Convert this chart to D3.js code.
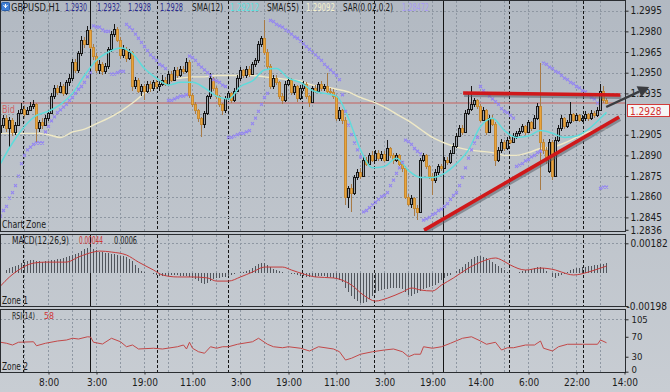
<!DOCTYPE html>
<html><head><meta charset="utf-8">
<script src="https://cdn.jsdelivr.net/npm/d3@7"></script>
<style>
html,body{margin:0;padding:0;background:#bcc2ca;}
svg{display:block;}
text{font-family:'Liberation Sans Narrow','Arial Narrow','DejaVu Sans Condensed','Liberation Sans',sans-serif;}
</style></head><body>
<svg id="c" width="670" height="392"></svg>
<script>
// ---------------- DATA ----------------
const open = [
1.2907,1.2912,1.2917,1.2910,1.2916,1.2907,1.2912,1.2921,1.2924,1.2920,
1.2923,1.2926,1.2927,1.2910,1.2914,1.2912,1.2917,1.2921,1.2933,1.2939,
1.2936,1.2940,1.2935,1.2943,1.2946,1.2958,1.2952,1.2964,1.2974,1.2971,
1.2981,1.2969,1.2962,1.2952,1.2956,1.2951,1.2955,1.2967,1.2978,1.2982,
1.2974,1.2963,1.2967,1.2961,1.2965,1.2940,1.2945,1.2937,1.2940,1.2937,
1.2942,1.2939,1.2943,1.2940,1.2942,1.2945,1.2942,1.2949,1.2945,1.2952,
1.2948,1.2953,1.2951,1.2958,1.2934,1.2927,1.2923,1.2917,1.2913,1.2921,
1.2933,1.2946,1.2939,1.2933,1.2927,1.2923,1.2932,1.2935,1.2930,1.2937,
1.2946,1.2952,1.2948,1.2953,1.2949,1.2956,1.2959,1.2971,1.2975,1.2965,
1.2955,1.2940,1.2946,1.2943,1.2933,1.2930,1.2942,1.2945,1.2936,1.2940,
1.2932,1.2939,1.2942,1.2933,1.2929,1.2939,1.2937,1.2942,1.2939,1.2940,
1.2937,1.2936,1.2933,1.2917,1.2923,1.2916,1.2860,1.2866,1.2863,1.2874,
1.2878,1.2875,1.2887,1.2884,1.2890,1.2887,1.2892,1.2888,1.2891,1.2887,
1.2895,1.2890,1.2887,1.2890,1.2884,1.2881,1.2860,1.2855,1.2859,1.2852,
1.2849,1.2887,1.2890,1.2882,1.2875,1.2872,1.2878,1.2882,1.2881,1.2887,
1.2885,1.2892,1.2897,1.2904,1.2910,1.2907,1.2921,1.2924,1.2927,1.2930,
1.2926,1.2916,1.2923,1.2907,1.2917,1.2913,1.2887,1.2894,1.2900,1.2895,
1.2901,1.2900,1.2904,1.2906,1.2908,1.2911,1.2907,1.2914,1.2910,1.2917,
1.2926,1.2900,1.2894,1.2879,1.2900,1.2875,1.2901,1.2910,1.2917,1.2911,
1.2914,1.2920,1.2916,1.2919,1.2916,1.2917,1.2920,1.2917,1.2921,1.2919,
1.2923,1.2937,1.2930];
const high = [
1.2915,1.2919,1.2919,1.2918,1.2917,1.2914,1.2923,1.2928,1.2926,1.2925,
1.2929,1.2930,1.2928,1.2916,1.2917,1.2919,1.2923,1.2935,1.2941,1.2941,
1.2943,1.2942,1.2945,1.2949,1.2960,1.2960,1.2966,1.2977,1.2976,1.2984,
1.2982,1.2971,1.2964,1.2959,1.2958,1.2957,1.2969,1.2980,1.2985,1.2983,
1.2976,1.2970,1.2969,1.2967,1.2966,1.2947,1.2946,1.2942,1.2942,1.2944,
1.2944,1.2945,1.2945,1.2944,1.2948,1.2947,1.2951,1.2951,1.2954,1.2954,
1.2955,1.2955,1.2961,1.2959,1.2935,1.2929,1.2924,1.2918,1.2922,1.2934,
1.2950,1.2947,1.2940,1.2934,1.2928,1.2933,1.2937,1.2936,1.2939,1.2948,
1.2954,1.2953,1.2955,1.2955,1.2958,1.2961,1.2973,1.2977,1.2988,1.2967,
1.2956,1.2948,1.2948,1.2944,1.2935,1.2944,1.2947,1.2946,1.2942,1.2941,
1.2941,1.2944,1.2943,1.2934,1.2940,1.2941,1.2943,1.2944,1.2942,1.2950,
1.2939,1.2938,1.2934,1.2925,1.2924,1.2918,1.2868,1.2869,1.2876,1.2880,
1.2881,1.2889,1.2889,1.2892,1.2893,1.2894,1.2894,1.2893,1.2893,1.2901,
1.2896,1.2892,1.2892,1.2891,1.2886,1.2882,1.2862,1.2861,1.2860,1.2854,
1.2888,1.2892,1.2891,1.2883,1.2877,1.2880,1.2884,1.2884,1.2889,1.2889,
1.2894,1.2899,1.2906,1.2912,1.2912,1.2923,1.2935,1.2940,1.2932,1.2931,
1.2927,1.2925,1.2924,1.2919,1.2919,1.2914,1.2896,1.2902,1.2901,1.2903,
1.2903,1.2906,1.2908,1.2910,1.2913,1.2912,1.2916,1.2915,1.2919,1.2928,
1.2957,1.2902,1.2896,1.2902,1.2901,1.2903,1.2912,1.2919,1.2918,1.2916,
1.2929,1.2921,1.2921,1.2920,1.2919,1.2922,1.2921,1.2923,1.2922,1.2925,
1.2942,1.2940,1.2932];
const low = [
1.2900,1.2910,1.2907,1.2896,1.2904,1.2905,1.2911,1.2920,1.2918,1.2919,
1.2922,1.2924,1.2900,1.2907,1.2909,1.2911,1.2915,1.2920,1.2931,1.2934,
1.2935,1.2933,1.2934,1.2940,1.2944,1.2950,1.2950,1.2962,1.2968,1.2970,
1.2967,1.2959,1.2950,1.2949,1.2948,1.2949,1.2953,1.2965,1.2976,1.2972,
1.2960,1.2961,1.2958,1.2959,1.2937,1.2938,1.2935,1.2933,1.2930,1.2935,
1.2936,1.2937,1.2938,1.2937,1.2940,1.2940,1.2941,1.2943,1.2944,1.2946,
1.2947,1.2949,1.2950,1.2932,1.2925,1.2920,1.2914,1.2903,1.2910,1.2919,
1.2931,1.2937,1.2931,1.2925,1.2919,1.2921,1.2930,1.2928,1.2929,1.2936,
1.2944,1.2946,1.2946,1.2947,1.2948,1.2954,1.2957,1.2969,1.2963,1.2953,
1.2938,1.2938,1.2941,1.2931,1.2927,1.2929,1.2940,1.2934,1.2934,1.2929,
1.2930,1.2937,1.2931,1.2925,1.2928,1.2935,1.2935,1.2937,1.2937,1.2935,
1.2934,1.2931,1.2915,1.2915,1.2913,1.2854,1.2852,1.2849,1.2861,1.2872,
1.2873,1.2874,1.2882,1.2883,1.2885,1.2886,1.2886,1.2886,1.2885,1.2886,
1.2888,1.2884,1.2885,1.2882,1.2878,1.2858,1.2853,1.2852,1.2846,1.2843,
1.2848,1.2885,1.2880,1.2873,1.2861,1.2870,1.2876,1.2879,1.2880,1.2883,
1.2884,1.2891,1.2895,1.2903,1.2905,1.2906,1.2919,1.2922,1.2925,1.2924,
1.2914,1.2915,1.2905,1.2906,1.2911,1.2882,1.2885,1.2892,1.2893,1.2894,
1.2898,1.2899,1.2902,1.2904,1.2906,1.2905,1.2906,1.2908,1.2909,1.2916,
1.2865,1.2891,1.2884,1.2877,1.2872,1.2874,1.2900,1.2908,1.2909,1.2910,
1.2913,1.2914,1.2915,1.2914,1.2914,1.2915,1.2915,1.2916,1.2917,1.2918,
1.2922,1.2928,1.2928];
const close = [
1.2912,1.2917,1.2910,1.2916,1.2907,1.2912,1.2921,1.2924,1.2920,1.2923,
1.2926,1.2927,1.2910,1.2914,1.2912,1.2917,1.2921,1.2933,1.2939,1.2936,
1.2940,1.2935,1.2943,1.2946,1.2958,1.2952,1.2964,1.2974,1.2971,1.2981,
1.2969,1.2962,1.2952,1.2956,1.2951,1.2955,1.2967,1.2978,1.2982,1.2974,
1.2963,1.2967,1.2961,1.2965,1.2940,1.2945,1.2937,1.2940,1.2937,1.2942,
1.2939,1.2943,1.2940,1.2942,1.2945,1.2942,1.2949,1.2945,1.2952,1.2948,
1.2953,1.2951,1.2958,1.2934,1.2927,1.2923,1.2917,1.2913,1.2921,1.2933,
1.2946,1.2939,1.2933,1.2927,1.2923,1.2932,1.2935,1.2930,1.2937,1.2946,
1.2952,1.2948,1.2953,1.2949,1.2956,1.2959,1.2971,1.2975,1.2965,1.2955,
1.2940,1.2946,1.2943,1.2933,1.2930,1.2942,1.2945,1.2936,1.2940,1.2932,
1.2939,1.2942,1.2933,1.2929,1.2939,1.2937,1.2942,1.2939,1.2940,1.2937,
1.2936,1.2933,1.2917,1.2923,1.2916,1.2860,1.2866,1.2863,1.2874,1.2878,
1.2875,1.2887,1.2884,1.2890,1.2887,1.2892,1.2888,1.2891,1.2887,1.2895,
1.2890,1.2887,1.2890,1.2884,1.2881,1.2860,1.2855,1.2859,1.2852,1.2849,
1.2887,1.2890,1.2882,1.2875,1.2872,1.2878,1.2882,1.2881,1.2887,1.2885,
1.2892,1.2897,1.2904,1.2910,1.2907,1.2921,1.2924,1.2927,1.2930,1.2926,
1.2916,1.2923,1.2907,1.2917,1.2913,1.2887,1.2894,1.2900,1.2895,1.2901,
1.2900,1.2904,1.2906,1.2908,1.2911,1.2907,1.2914,1.2910,1.2917,1.2926,
1.2900,1.2894,1.2887,1.2900,1.2875,1.2901,1.2910,1.2917,1.2911,1.2914,
1.2920,1.2916,1.2919,1.2916,1.2917,1.2920,1.2917,1.2921,1.2919,1.2923,
1.2937,1.2930,1.2928];
const sar = [
1.2846,1.2850,1.2853,1.2859,1.2863,1.2868,1.2875,1.2884,1.2890,1.2894,
1.2896,1.2898,1.2899,1.2899,1.2899,1.2907,1.2911,1.2915,1.2918,1.2921,
1.2923,1.2925,1.2927,1.2930,1.2932,1.2935,1.2938,1.2940,1.2943,1.2947,
1.2950,1.2984,1.2983,1.2983,1.2981,1.2980,1.2980,1.2949,1.2949,1.2950,
1.2951,1.2951,1.2985,1.2983,1.2981,1.2978,1.2975,1.2972,1.2969,1.2966,
1.2963,1.2961,1.2959,1.2956,1.2955,1.2953,1.2930,1.2930,1.2931,1.2932,
1.2933,1.2933,1.2934,1.2962,1.2961,1.2959,1.2956,1.2954,1.2952,1.2950,
1.2948,1.2945,1.2944,1.2943,1.2941,1.2940,1.2903,1.2903,1.2904,1.2905,
1.2906,1.2906,1.2907,1.2908,1.2913,1.2917,1.2922,1.2927,1.2932,1.2935,
1.2988,1.2987,1.2985,1.2984,1.2983,1.2981,1.2980,1.2978,1.2976,1.2975,
1.2973,1.2971,1.2969,1.2967,1.2965,1.2963,1.2961,1.2959,1.2956,1.2954,
1.2952,1.2950,1.2948,1.2945,1.2934,1.2922,1.2912,1.2905,1.2899,1.2894,
1.2889,1.2849,1.2850,1.2852,1.2854,1.2856,1.2858,1.2860,1.2861,1.2863,
1.2868,1.2872,1.2877,1.2881,1.2885,1.2901,1.2900,1.2898,1.2895,1.2893,
1.2891,1.2843,1.2844,1.2845,1.2847,1.2848,1.2850,1.2851,1.2853,1.2855,
1.2858,1.2861,1.2863,1.2868,1.2874,1.2881,1.2888,1.2894,1.2899,1.2903,
1.2940,1.2937,1.2935,1.2933,1.2931,1.2929,1.2927,1.2924,1.2922,1.2921,
1.2919,1.2917,1.2882,1.2883,1.2884,1.2886,1.2887,1.2889,1.2890,1.2892,
1.2893,1.2957,1.2956,1.2954,1.2953,1.2951,1.2950,1.2948,1.2946,1.2945,
1.2943,1.2942,1.2940,1.2939,1.2937,1.2936,1.2934,1.2932,1.2931,1.2928,
1.2866,1.2867,1.2867];
// moving averages, read every 4 bars
const smaIdx = [0,4,8,12,16,20,24,28,32,36,40,44,48,52,56,60,64,68,72,76,80,84,88,92,96,100,
  104,108,112,116,120,124,128,132,136,140,144,148,152,156,160,164,168,172,176,180,184,188,192,196,200,202];
const sma12 = [1.2884,1.2899,1.2911,1.2919,1.2922,1.2927,1.2935,1.2948,1.2959,1.2965,1.2968,1.2964,1.2953,
  1.2946,1.2941,1.2943,1.2943,1.2939,1.2933,1.2931,1.2940,1.2944,1.2952,1.2953,1.2946,1.2943,1.2937,1.2935,
  1.2933,1.2917,1.2894,1.2881,1.2882,1.2888,1.2879,1.2874,1.2874,1.2877,1.2884,1.2894,1.2911,1.2917,1.2908,
  1.2903,1.2904,1.2908,1.2906,1.2903,1.2904,1.2909,1.2917,1.29212];
const sma55 = [1.2906,1.2906,1.2906,1.2906,1.2905,1.2903,1.2907,1.2909,1.2913,1.2917,1.2922,1.2928,1.2935,
  1.2940,1.2945,1.2946,1.2947,1.2947,1.2948,1.2948,1.2948,1.2948,1.2947,1.2946,1.2945,1.2944,1.2941,1.2940,
  1.2938,1.2936,1.2932,1.2929,1.2925,1.2920,1.2915,1.2909,1.2903,1.2899,1.2896,1.2894,1.2893,1.2892,1.2890,
  1.2890,1.2892,1.2895,1.2896,1.2899,1.2903,1.2907,1.2909,1.29092];
const macdHist = [
-0.00004,0.00002,0.00020,0.00032,0.00038,0.00044,0.00050,0.00062,0.00068,0.00075,
0.00081,0.00081,0.00075,0.00075,0.00068,0.00075,0.00075,0.00081,0.00081,0.00087,
0.00087,0.00093,0.00099,0.00105,0.00111,0.00117,0.00123,0.00135,0.00147,0.00153,
0.00159,0.00147,0.00141,0.00129,0.00129,0.00123,0.00123,0.00117,0.00117,0.00111,
0.00105,0.00105,0.00099,0.00087,0.00075,0.00050,0.00032,0.00014,0.00008,0.00002,
0.00002,-0.00004,-0.00010,-0.00016,-0.00016,-0.00016,-0.00016,-0.00010,-0.00010,-0.00010,
-0.00016,-0.00016,-0.00016,-0.00022,-0.00028,-0.00035,-0.00047,-0.00059,-0.00065,-0.00059,
-0.00047,-0.00035,-0.00028,-0.00028,-0.00022,-0.00022,-0.00016,-0.00010,-0.00004,0.00002,
0.00008,0.00008,0.00014,0.00020,0.00032,0.00044,0.00056,0.00062,0.00062,0.00050,
0.00038,0.00026,0.00020,0.00014,0.00008,0.00002,0.00002,-0.00004,-0.00004,-0.00010,
-0.00016,-0.00016,-0.00022,-0.00022,-0.00022,-0.00022,-0.00016,-0.00016,-0.00016,-0.00022,
-0.00022,-0.00028,-0.00035,-0.00041,-0.00053,-0.00089,-0.00113,-0.00138,-0.00156,-0.00168,
-0.00180,-0.00180,-0.00174,-0.00156,-0.00138,-0.00119,-0.00107,-0.00101,-0.00095,-0.00095,
-0.00089,-0.00089,-0.00089,-0.00089,-0.00095,-0.00113,-0.00132,-0.00138,-0.00125,-0.00119,
-0.00107,-0.00095,-0.00089,-0.00083,-0.00077,-0.00071,-0.00059,-0.00041,-0.00028,-0.00016,
-0.00010,0.00002,0.00014,0.00026,0.00038,0.00056,0.00068,0.00087,0.00099,0.00105,
0.00105,0.00099,0.00093,0.00081,0.00068,0.00056,0.00044,0.00032,0.00020,0.00008,
0.00002,0.00002,0.00002,0.00008,0.00014,0.00020,0.00020,0.00026,0.00032,0.00038,
0.00038,0.00032,0.00014,0.00002,-0.00022,-0.00028,-0.00016,-0.00010,-0.00004,0.00008,
0.00020,0.00026,0.00032,0.00032,0.00038,0.00038,0.00044,0.00044,0.00050,0.00050,
0.00056,0.00056,0.00060];
const sigIdx = [0,3,6,11,15,22,26,31,33,37,42,46,51,54,59,64,69,72,76,80,84,88,94,97,101,105,111,117,121,125,
  129,134,137,140,144,147,151,156,160,165,167,170,175,180,185,189,191,196,200,202];
const macdSignal = [-0.00077,-0.00022,0.00020,0.00062,0.00068,0.00068,0.00099,0.00129,0.00135,0.00129,
  0.00111,0.00068,0.00020,-0.00010,-0.00022,-0.00022,-0.00028,-0.00047,-0.00047,-0.00022,
  0.00008,0.00038,0.00038,0.00020,-0.00004,-0.00022,-0.00028,-0.00071,-0.00132,-0.00168,
  -0.00150,-0.00113,-0.00089,-0.00101,-0.00107,-0.00071,-0.00028,0.00032,0.00068,0.00093,
  0.00081,0.00050,0.00020,0.00032,0.00020,-0.00004,-0.00010,0.00008,0.00032,0.00044];
const rsiIdx = [0,2,4,6,11,12,15,19,22,24,26,29,30,31,34,37,40,42,44,46,51,54,59,61,62,63,64,66,68,70,
  72,74,76,79,84,86,89,91,94,96,100,103,106,111,113,115,117,120,124,128,131,134,136,138,140,141,144,147,150,154,
  157,160,162,165,167,169,171,175,178,180,181,184,186,189,194,199,200,202];
const rsi = [59,57,53.5,59,60,52,57,61.5,63.5,67,65.5,70,69.5,59,55.5,67,60,50,53.5,45.5,
  47,45.5,50,53.5,45.5,59,47,40,37,50,47,50,50,55,60,67,55,50,48,50,
  47,41.5,50,45.5,40,23.4,27,35,40,43.5,45.5,40,30,35,35,50,47,50,57,67,
  70,61.5,55,59,43.5,48,48,53.5,53.5,61.5,47,41.5,50,55,55,55,63.5,58];
const priceGrid = [1.2995,1.2980,1.2965,1.2950,1.2935,1.2920,1.2905,1.2890,1.2875,1.2860,1.2845];
const priceTicks = [1.2995,1.2980,1.2965,1.2950,1.2935,1.2905,1.2890,1.2875,1.2860,1.2845,1.2836];
const macdTicks = [0.00182,-0.00198];
const rsiTicks = [105,70,30,0];
const timeIdx = [16,32,48,64,80,96,112,128,144,160,176,192,208];
const timeLabels = ["8:00","3:00","19:00","11:00","3:00","19:00","11:00","3:00","19:00","14:00","6:00","22:00","14:00"];
const separators = [7.5,30,52,76,100.5,124.5,147.5,169.5,194];
const solidSeparators = [30,147.5];
// drawn annotations (bar index, price)
const trendTop = [[154.2,1.29353],[206.6,1.29338]];
const trendUp = [[141.2,1.28358],[206.2,1.29179]];
const arrowLine = [[201.9,1.29251],[216.2,1.29396]];

// ---------------- CHART ----------------
const W=670,H=392;
const FONT="'Liberation Sans Narrow','Arial Narrow','DejaVu Sans Condensed','Liberation Sans',sans-serif";
const svg=d3.select('#c');
const defs=svg.append('defs');
const bg=defs.append('linearGradient').attr('id','bg').attr('x1',0).attr('y1',0).attr('x2',0).attr('y2',1);
bg.append('stop').attr('offset','0%').attr('stop-color','#b2b9c2');
bg.append('stop').attr('offset','100%').attr('stop-color','#c8cdd3');
svg.append('rect').attr('width',W).attr('height',H).attr('fill','url(#bg)');

const x=d3.scaleLinear().domain([0,208]).range([0.5,624.5]);
const yP=d3.scaleLinear().domain([1.2836,1.2995]).range([229.8,10.7]);
const yM=d3.scaleLinear().domain([-0.00198,0.00182]).range([306,243.3]);
const yR=d3.scaleLinear().domain([0,105]).range([371.7,319.3]);

const panels=[{id:'pm',t:0.5,b:231.5},{id:'pd',t:234.5,b:306.5},{id:'pr',t:309.5,b:372.5}];
panels.forEach(p=>{
  defs.append('clipPath').attr('id',p.id).append('rect').attr('x',0).attr('y',p.t).attr('width',625).attr('height',p.b-p.t);
});

// grids
panels.forEach(p=>{
  const g=svg.append('g').attr('shape-rendering','crispEdges');
  g.selectAll('line.v').data(d3.range(8,208,8)).join('line')
    .attr('x1',d=>x(d)).attr('x2',d=>x(d)).attr('y1',p.t).attr('y2',p.b)
    .attr('stroke','#8e97a2').attr('stroke-dasharray','2,2');
  g.selectAll('line.s').data(separators).join('line')
    .attr('x1',d=>Math.round(x(d))+0.5).attr('x2',d=>Math.round(x(d))+0.5).attr('y1',p.t).attr('y2',p.b)
    .attr('stroke','#151515')
    .attr('stroke-dasharray',d=>solidSeparators.includes(d)?null:'3,2');
});
const gh=svg.append('g').attr('shape-rendering','crispEdges');
gh.selectAll('line').data(priceGrid).join('line')
  .attr('x1',0).attr('x2',625).attr('y1',d=>Math.round(yP(d))+0.5).attr('y2',d=>Math.round(yP(d))+0.5)
  .attr('stroke','#8e97a2').attr('stroke-dasharray','2,2');
gh.append('line').attr('x1',0).attr('x2',625).attr('y1',Math.round(yM(0.00182))+0.5).attr('y2',Math.round(yM(0.00182))+0.5)
  .attr('stroke','#8e97a2').attr('stroke-dasharray','2,2');
gh.append('line').attr('x1',0).attr('x2',625).attr('y1',Math.round(yR(105))+0.5).attr('y2',Math.round(yR(105))+0.5)
  .attr('stroke','#8e97a2').attr('stroke-dasharray','2,2');

const last=close.length-1;
// bid line
const main=svg.append('g').attr('clip-path','url(#pm)');
main.append('line').attr('x1',0).attr('x2',625).attr('y1',yP(close[last])).attr('y2',yP(close[last]))
  .attr('stroke','#c27878').attr('stroke-width',1.6).attr('opacity',0.9);

// SMA55 & SMA12
const smaLine=arr=>d3.line().x((d,k)=>x(smaIdx[k])).y(d=>yP(d)).curve(d3.curveMonotoneX)(arr);
main.append('path').attr('d',smaLine(sma55)).attr('fill','none').attr('stroke','#efe9c6').attr('stroke-width',1.4);

// candles
const bars=d3.range(close.length);
const cg=main.append('g').attr('shape-rendering','crispEdges');
cg.selectAll('line').data(bars).join('line')
  .attr('x1',i=>x(i)).attr('x2',i=>x(i)).attr('y1',i=>yP(high[i])).attr('y2',i=>yP(low[i]))
  .attr('stroke',i=>close[i]>=open[i]?'#161616':'#a87a45');
cg.selectAll('rect').data(bars).join('rect')
  .attr('x',i=>x(i)-1).attr('width',2)
  .attr('y',i=>Math.round(yP(Math.max(open[i],close[i])))+0.5)
  .attr('height',i=>Math.max(1,Math.round(yP(Math.min(open[i],close[i])))-Math.round(yP(Math.max(open[i],close[i])))))
  .attr('fill',i=>close[i]>=open[i]?'#9fa5ad':'#e9a43c')
  .attr('stroke',i=>close[i]>=open[i]?'#161616':'#c58a35');

main.append('path').attr('d',smaLine(sma12)).attr('fill','none').attr('stroke','#5fdbdb').attr('stroke-width',1.5);

// SAR crosses
main.append('g').selectAll('path').data(bars).join('path')
  .attr('d',i=>{const cx=x(i),cy=yP(sar[i]);return `M${cx-1.5},${cy-1.5}L${cx+1.5},${cy+1.5}M${cx-1.5},${cy+1.5}L${cx+1.5},${cy-1.5}`;})
  .attr('stroke','#9384f2').attr('stroke-width',1.1);

// trend lines
const tl=d=>d3.line().x(p=>x(p[0])).y(p=>yP(p[1]))(d);
[trendTop,trendUp].forEach(t=>{
  main.append('path').attr('d',tl(t)).attr('transform','translate(1,2)').attr('stroke','#59606a').attr('stroke-opacity',0.55).attr('stroke-width',4).attr('fill','none');
  main.append('path').attr('d',tl(t)).attr('stroke','#d0181a').attr('stroke-width',3.6).attr('fill','none');
});

// MACD
const md=svg.append('g').attr('clip-path','url(#pd)');
md.append('g').attr('shape-rendering','crispEdges').selectAll('line').data(bars).join('line')
  .attr('x1',i=>x(i)).attr('x2',i=>x(i)).attr('y1',yM(0)).attr('y2',i=>yM(macdHist[i]))
  .attr('stroke','#50555c').attr('stroke-width',1);
md.append('path').attr('d',d3.line().x((d,k)=>x(sigIdx[k])).y(d=>yM(d)).curve(d3.curveMonotoneX)(macdSignal))
  .attr('fill','none').attr('stroke','#c43c3c').attr('stroke-width',1);

// RSI
const rg=svg.append('g').attr('clip-path','url(#pr)');
rg.append('path').attr('d',d3.line().x((d,k)=>x(rsiIdx[k])).y(d=>yR(d))(rsi))
  .attr('fill','none').attr('stroke','#c24848').attr('stroke-width',1);

// panel borders
const bd=svg.append('g').attr('shape-rendering','crispEdges');
panels.forEach(p=>{
  bd.append('rect').attr('x',0.5).attr('y',p.t).attr('width',625).attr('height',p.b-p.t)
    .attr('fill','none').attr('stroke','#2a2d31');
});

// axes
function styleAxis(g,fs){
  g.select('.domain').remove();
  g.selectAll('.tick line').attr('stroke','#2a2a2a');
  g.selectAll('.tick text').attr('fill','#1c1c1c').style('font-size',fs+'px').style('font-family',FONT);
}
const ap=svg.append('g').attr('transform','translate(625.5,0)')
  .call(d3.axisRight(yP).tickValues(priceTicks).tickSize(3).tickPadding(2).tickFormat(d3.format('.4f')));
styleAxis(ap,10);
const am=svg.append('g').attr('transform','translate(625.5,0)')
  .call(d3.axisRight(yM).tickValues(macdTicks).tickSize(3).tickPadding(2).tickFormat(d=>d.toFixed(5)));
styleAxis(am,10);
am.selectAll('.tick text').filter(d=>d<0).attr('x',1);
const ar=svg.append('g').attr('transform','translate(625.5,0)')
  .call(d3.axisRight(yR).tickValues(rsiTicks).tickSize(3).tickPadding(3));
styleAxis(ar,9.5);
ar.selectAll('.tick text').filter(d=>d===0).attr('dy','0.1em');
const at=svg.append('g').attr('transform','translate(0,372.5)')
  .call(d3.axisBottom(x).tickValues(timeIdx).tickSize(2).tickPadding(4).tickFormat((d,k)=>timeLabels[k]));
styleAxis(at,10);

// current price box
const yb=yP(close[last]);
svg.append('rect').attr('x',627.5).attr('y',Math.round(yb)+1.5).attr('width',42).attr('height',12)
  .attr('fill','#f6f6f6').attr('stroke','#d23a3a').attr('shape-rendering','crispEdges');
svg.append('text').attr('x',630).attr('y',Math.round(yb)+11.5).text(d3.format('.4f')(close[last]))
  .attr('fill','#d23030').style('font-size','10px');

// arrow
const a0=[x(arrowLine[0][0]),yP(arrowLine[0][1])], a1=[x(arrowLine[1][0]),yP(arrowLine[1][1])];
const dx=a1[0]-a0[0], dy=a1[1]-a0[1], L=Math.hypot(dx,dy), ux=dx/L, uy=dy/L;
const base=[a1[0]-ux*11,a1[1]-uy*11];
svg.append('line').attr('x1',a0[0]).attr('y1',a0[1]).attr('x2',base[0]).attr('y2',base[1])
  .attr('stroke','#3a3c40').attr('stroke-width',2.4);
svg.append('path').attr('d',`M${a1[0]},${a1[1]}L${base[0]-uy*6},${base[1]+ux*6}L${base[0]+uy*6},${base[1]-ux*6}Z`)
  .attr('fill','#3a3c40');

// labels (widths follow the reference)
const txt=(s,xx,yy,c,w,fs)=>{
  const t=svg.append('text').attr('x',xx).attr('y',yy).text(s).attr('fill',c).style('font-size',(fs||10)+'px');
  if(w) t.attr('textLength',w).attr('lengthAdjust','spacingAndGlyphs');
  return t;
};
txt('Bid',2,113,'#d06464',13);
txt('Chart Zone',2,228,'#1c1c1c',44);
txt('Zone 1',2,303.5,'#1c1c1c',26);
txt('Zone 2',2,370,'#1c1c1c',26);
txt('MACD(12,26,9)',12,243.5,'#1c1c1c',57);
txt(macdSignal[macdSignal.length-1].toFixed(5),79,243.5,'#d03434',24);
txt(String(macdHist[last].toFixed(4)),114,243.5,'#1c1c1c',23);
txt('RSI(14)',12,318.5,'#1c1c1c',23,9.5);
txt(String(Math.round(rsi[rsi.length-1])),44,318.5,'#d03434',10,9.5);

// title
const ic=svg.append('g');
ic.append('rect').attr('x',1.5).attr('y',2.5).attr('width',8).attr('height',8).attr('rx',1).attr('fill','#3f7fd6').attr('stroke','#2a5ea8');
ic.append('path').attr('d','M3.5,5L5.5,7.5L7.5,5M5.5,4V8').attr('stroke','#fff').attr('fill','none').attr('stroke-width',1);
const f4=d3.format('.4f');
const title=[
 ['GBPUSD,H1',11,'#1a1a1a',49],
 [f4(open[last]),65,'#2b2b8e',22],[f4(high[last]),97,'#2b2b8e',23],[f4(low[last]),128,'#2b2b8e',23],[f4(close[last]),160,'#2b2b8e',23],
 ['SMA(12)',192,'#1a1a1a',31],[sma12[sma12.length-1].toFixed(5),230,'#5fe0e0',29],
 ['SMA(55)',267,'#1a1a1a',32],[sma55[sma55.length-1].toFixed(5),306,'#f3efcc',29],
 ['SAR(0.02,0.2)',343,'#1a1a1a',50],['1.28472',402,'#a99cf2',27]
];
title.forEach(t=>txt(t[0],t[1],10.5,t[2],t[3]));
</script>
</body></html>
